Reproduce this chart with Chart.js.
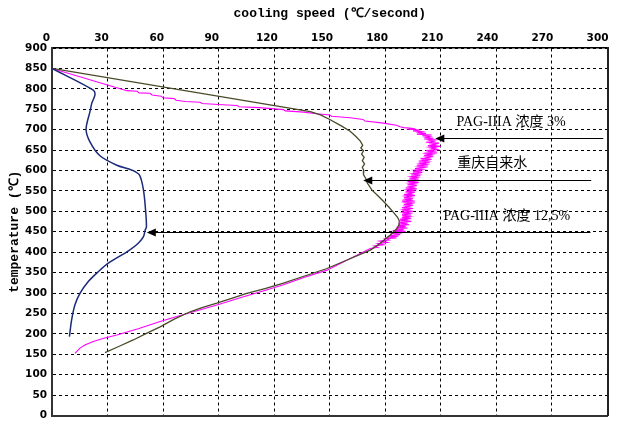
<!DOCTYPE html>
<html><head><meta charset="utf-8">
<script src="https://cdn.jsdelivr.net/npm/chart.js@4.4.0/dist/chart.umd.min.js"></script>
<style>html,body{margin:0;padding:0;background:#fff;}canvas{display:block;}</style>
</head><body>
<canvas id="c" width="633" height="441"></canvas>
<script>
// tick labels
const xTickValues = [0, 30, 60, 90, 120, 150, 180, 210, 240, 270, 300];
const yTickValues = [0, 50, 100, 150, 200, 250, 300, 350, 400, 450, 500, 550, 600, 650, 700, 750, 800, 850, 900];
const xAxisTitle = 'cooling speed (℃/second)';
const yAxisTitle = 'temperature (℃)';
const seriesNames = ['PAG-IIIA 浓度 12,5%', '重庆自来水', 'PAG-IIIA 浓度 3%'];

// series: [cooling speed, temperature]
const pag125 = [[0,850],[22.3,797],[23.2,785],[21.5,765],[20.5,744],[18.4,701],[20.5,670],[25.9,636],[35,613],[43.1,601],[47.2,589],[49.4,552],[50.6,499],[51,462],[50.3,454],[49.4,438],[46.6,422],[41.5,404],[30.4,373],[25,352],[19.6,328],[15.1,299],[12.4,271],[10.6,234],[9.4,193]];

const tapWater = [[0,850],[139.5,744],[145,736],[150,725],[156,710],[161,696],[164,684],[166.5,672],[167.8,662],[166.8,655],[168.2,648],[167.2,640],[168.6,632],[167.6,624],[168.8,616],[167.6,608],[168.4,600],[168.2,590],[169.5,580],[170.2,570],[172.8,552],[176,538],[179.1,524],[182,510],[184.5,497],[186.5,486],[187.5,478],[187.5,468],[186.3,458],[184.5,450],[182.7,442],[180,432],[177.3,422],[171.9,405],[160,382],[148.5,360],[136,341],[125,324],[115,311],[105.2,299],[97,287],[89,275],[81,264],[74.6,254],[66,236],[58.4,217],[51,201],[43.9,185],[36,169],[28.6,154]];

const pag3 = [[0,850],[40.4,795.5],[46,794],[47,790],[53,789],[54,785],[59,782],[60,778],[66,776],[67,772],[72,769],[80,767],[81,764],[92,761],[100,759],[101,756],[112,754],[125,749],[126,746],[136,743],[143,739],[150,736],[151,733],[161,729],[168,725],[169,721],[179,716],[186,711],[188,707],
[190,705],[195,703],[193,701],[199,699],[195,697],[200,695],[198,693],[202,691],[197,689],[205,687],[200,685],[204,683],[202,681],[206,679],[201,677],[207,675],[204,673],[206,671],[202,669],[209,667],[205,665],[207,663],[203,661],[210,659],[204,657],[207,655],[205,653],[209,651],[202,649],[206,647],[203,645],[208,643],[202,641],[205,639],[201,637],[206,635],[202,633],[204,631],[199,629],[205,627],[200,625],[203,623],[198,621],[204,619],[199,617],[202,615],[197,613],[203,611],[198,609],[201,607],[196,605],[200,603],[196,601],[199,599],[195,597],[200,595],[195,593],[198,591],[194,589],[199,587],[194,585],[197,583],[193,581],[198,579],[194,577],[196,575],[192,573],[198,571],[193,569],[196,567],[192,565],[197,563],[193,561],[195,559],[191,557],[197,555],[192,553],[195,551],[191,549],[196,547],[192,545],[194,543],[190,541],[196,539],[191,537],[194,535],[190,533],[195,531],[191,529],[194,527],[189,525],[196,523],[191,521],[194,519],[190,517],[195,515],[191,513],[193,511],[189,509],[195,507],[190,505],[193,503],[189,501],[195,499],[190,497],[193,495],[189,493],[194,491],[189,489],[193,487],[189,485],[194,483],[188,481],[192,479],[188,477],[194,475],[188,473],[192,471],[187,469],[193,467],[187,465],[191,463],[186,461],[192,459],[186,457],[190,455],[184,453],[191,451],[184,449],[189,447],[183,445],[188,443],[182,441],[187,439],[181,437],[186,435],[180,433],
[182,430],[177,427],[181,424],[176,421],[179,418],[174,415],[176,412],[171.9,409],[160,382],[148.5,356],[136,338],[125,320],[114,305],[103.4,291],[90,272],[76.4,254],[67,242],[58.4,230],[47,213],[35,197],[28,189],[22.3,181],[18,173],[15.1,165],[12.4,152]];

// annotations (value coordinates)
const noteTexts = ['PAG-IIIA 浓度 3%', '重庆自来水', 'PAG-IIIA 浓度 12,5%'];
const noteSpeed = [218.4, 218.9, 211.4];
const noteTemp = [719, 617.6, 486.9];
const arrowTemp = [679, 576.8, 448.7];
const arrowTail = [297.7, 291.2, 290.8];
const arrowTip = [207, 168.1, 51.2];

const toPts = a => a.map(p => ({x: p[0], y: p[1]}));
const tickFont = {family: '"DejaVu Sans", Verdana, sans-serif', size: 10.5, weight: 'bold'};
const titleFont = {family: '"Liberation Mono", "Courier New", monospace', size: 13, weight: 'bold'};

const bgPlugin = {id: 'bg', beforeDraw(chart) {
  const c = chart.ctx; c.save(); c.fillStyle = '#fff'; c.fillRect(0, 0, chart.width, chart.height); c.restore();
}};

const notesPlugin = {id: 'notes', afterDatasetsDraw(chart) {
  const c = chart.ctx, xs = chart.scales.x, ys = chart.scales.y;
  c.save();
  c.strokeStyle = '#000'; c.fillStyle = '#000'; c.lineWidth = 1.2;
  for (let i = 0; i < arrowTemp.length; i++) {
    const py = Math.round(ys.getPixelForValue(arrowTemp[i])) + 0.5;
    const tail = xs.getPixelForValue(arrowTail[i]);
    const tip = xs.getPixelForValue(arrowTip[i]);
    c.beginPath(); c.moveTo(tail, py); c.lineTo(tip + 6, py); c.stroke();
    c.beginPath(); c.moveTo(tip, py); c.lineTo(tip + 9, py - 4); c.lineTo(tip + 9, py + 4); c.closePath(); c.fill();
  }
  c.font = '14px "Liberation Serif", "Times New Roman", "Noto Sans CJK SC", serif';
  c.textBaseline = 'middle'; c.textAlign = 'left';
  for (let i = 0; i < noteTexts.length; i++) {
    c.fillText(noteTexts[i], xs.getPixelForValue(noteSpeed[i]), ys.getPixelForValue(noteTemp[i]));
  }
  c.restore();
}};

new Chart(document.getElementById('c'), {
  type: 'scatter',
  data: {datasets: [
    {label: seriesNames[0], data: toPts(pag125), showLine: true, borderColor: '#1b2a7a', borderWidth: 1.5, pointRadius: 0, tension: 0.3, fill: false},
    {label: seriesNames[1], data: toPts(tapWater), showLine: true, borderColor: '#4a4a28', borderWidth: 1.3, pointRadius: 0, tension: 0, fill: false},
    {label: seriesNames[2], data: toPts(pag3), showLine: true, borderColor: '#ff00ff', borderWidth: 1.1, pointRadius: 0, tension: 0, fill: false}
  ]},
  options: {
    responsive: false, animation: false, devicePixelRatio: 1,
    layout: {padding: {left: 0, top: 0, right: 25.5, bottom: 25.5}},
    plugins: {legend: {display: false}, tooltip: {enabled: false}},
    scales: {
      x: {type: 'linear', position: 'top', weight: 0, min: 0, max: 300,
        afterBuildTicks: s => { s.ticks = xTickValues.map(v => ({value: v})); },
        ticks: {display: false},
        grid: {color: '#000', lineWidth: 1, drawTicks: false},
        border: {display: true, color: '#000', width: 1.5, dash: [3, 3]},
        afterFit: s => { s.height = 0; }},
      xl: {type: 'linear', position: 'top', weight: 1, min: 3, max: 305.4,
        afterBuildTicks: s => { s.ticks = xTickValues.map(v => ({value: v})); },
        ticks: {display: true, autoSkip: false, maxRotation: 0, padding: 3, font: tickFont, color: '#000'},
        grid: {display: true, drawOnChartArea: false, drawTicks: false, lineWidth: 0},
        border: {display: false},
        title: {display: true, text: xAxisTitle, font: titleFont, color: '#000', padding: {top: 6, bottom: 0}},
        afterFit: s => { s.height = 48; }},
      y: {type: 'linear', position: 'left', min: 0, max: 900,
        afterBuildTicks: s => { s.ticks = yTickValues.map(v => ({value: v})); },
        ticks: {autoSkip: false, padding: 5, font: tickFont, color: '#000'},
        grid: {color: '#000', lineWidth: 1, drawTicks: false},
        border: {display: true, color: '#333', width: 2, dash: [3, 3]},
        title: {display: true, text: yAxisTitle, font: titleFont, color: '#000', padding: {top: 7, bottom: 0}},
        afterFit: s => { s.width = 52; }},
      xb: {type: 'linear', position: 'bottom', min: 0, max: 300,
        ticks: {display: false},
        grid: {display: true, drawOnChartArea: false, drawTicks: false, lineWidth: 0},
        border: {display: true, color: '#333', width: 2},
        afterFit: s => { s.height = 0; }},
      yr: {type: 'linear', position: 'right', min: 0, max: 900,
        ticks: {display: false},
        grid: {display: true, drawOnChartArea: false, drawTicks: false, lineWidth: 0},
        border: {display: true, color: '#222', width: 2},
        afterFit: s => { s.width = 0; }}
    }
  },
  plugins: [bgPlugin, notesPlugin]
});
</script>
</body></html>
